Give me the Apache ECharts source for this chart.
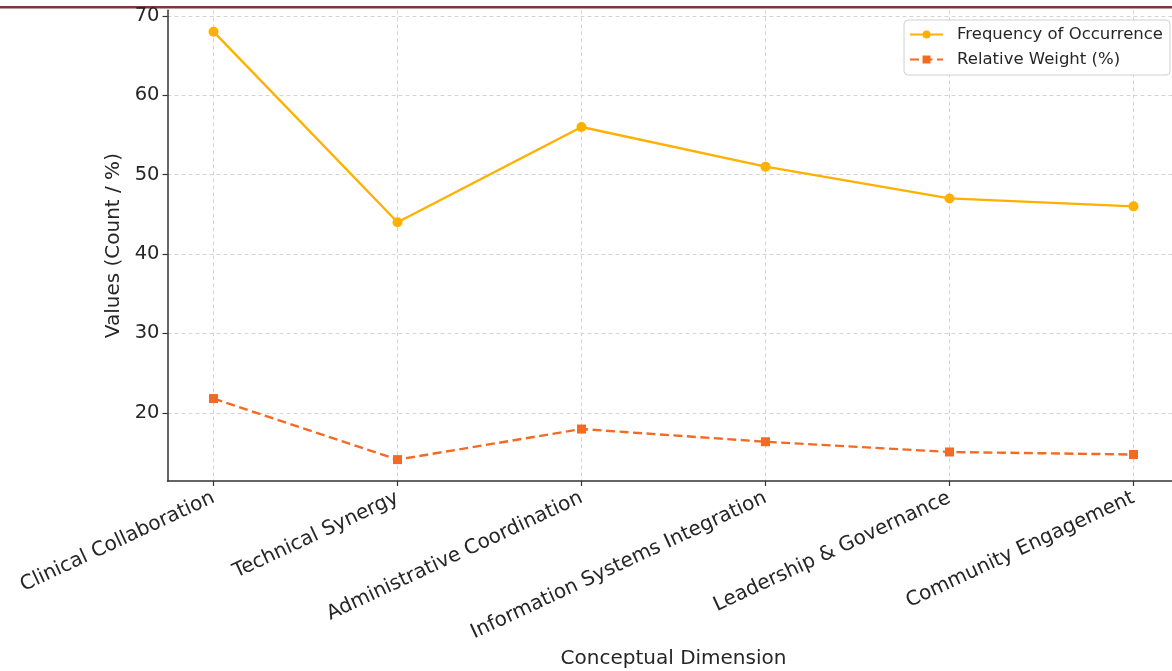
<!DOCTYPE html>
<html>
<head>
<meta charset="utf-8">
<script src="https://cdn.jsdelivr.net/npm/echarts@6/dist/echarts.min.js"></script>
<style>
  html, body { margin: 0; padding: 0; background: #ffffff; }
  #chart { width: 1172px; height: 671px; }
</style>
</head>
<body>
<div id="chart"></div>
<script>
// Conceptual dimensions on the x axis
const categories = [
  'Clinical Collaboration',
  'Technical Synergy',
  'Administrative Coordination',
  'Information Systems Integration',
  'Leadership & Governance',
  'Community Engagement'
];
// Number of coded occurrences per dimension
const frequency = [68, 44, 56, 51, 47, 46];
// Share of all occurrences, in percent
const relativeWeight = [21.79, 14.10, 17.95, 16.35, 15.06, 14.74];
// Tick values on the y axis
const yTicks = [20, 30, 40, 50, 60, 70];
const xTicks = categories.map((_, i) => i);

const FONT = "'DejaVu Sans'";
const TEXT = '#262626';

// axis range with a 5% margin on each side of the data
const allVals = frequency.concat(relativeWeight);
const lo = Math.min(...allVals), hi = Math.max(...allVals);
const pad = (hi - lo) * 0.05;
const n = categories.length;

const chart = echarts.init(document.getElementById('chart'), null, { renderer: 'canvas' });

chart.setOption({
  animation: false,
  backgroundColor: '#ffffff',
  textStyle: { fontFamily: FONT },
  graphic: [
    {
      type: 'text',
      left: 150, top: -20.5,
      style: {
        text: 'Strategy, Integrating Technology, Synergy, and Shared Learning in Interdisciplinary Teams: Coding, Frequency, and Community Survey',
        font: '20px "Liberation Sans"',
        fill: '#7b3a3a'
      }
    },
    {
      type: 'rect',
      shape: { x: 0, y: 6, width: 1172, height: 2.5 },
      style: { fill: '#7b3a3a' }
    }
  ],
  grid: {
    left: 167.5, right: -7.5, top: 10.3, bottom: 190,
    containLabel: false,
    outerBoundsMode: 'none'
  },
  legend: {
    orient: 'vertical',
    right: 2, top: 20,
    backgroundColor: '#ffffff',
    borderColor: '#d0d0d0',
    borderWidth: 1,
    borderRadius: 4,
    padding: [6, 7, 7, 5],
    itemWidth: 33,
    itemHeight: 10,
    itemGap: 8,
    textStyle: { fontFamily: FONT, fontSize: 16.5, color: TEXT, padding: [0, 0, 0, 9] },
    data: ['Frequency of Occurrence', 'Relative Weight (%)']
  },
  xAxis: {
    type: 'value',
    min: -0.25,
    max: n - 0.75,
    name: 'Conceptual Dimension',
    nameLocation: 'middle',
    nameGap: 167,
    nameTextStyle: { fontFamily: FONT, fontSize: 20, color: TEXT },
    axisLine: { show: true, onZero: false, lineStyle: { color: '#333333', width: 1.5 } },
    axisTick: { show: true, customValues: xTicks, length: 5, lineStyle: { color: '#333333', width: 1.2 } },
    axisLabel: {
      customValues: xTicks,
      rotate: 25,
      margin: 16,
      fontFamily: FONT, fontSize: 20, color: TEXT,
      formatter: v => categories[Math.round(v)] || ''
    },
    splitLine: { show: true, lineStyle: { color: '#d4d4d4', type: [4, 3], width: 1 } }
  },
  yAxis: {
    type: 'value',
    min: lo - pad,
    max: hi + pad,
    name: 'Values (Count / %)',
    nameLocation: 'middle',
    nameGap: 34,
    nameTextStyle: { fontFamily: FONT, fontSize: 20, color: TEXT },
    axisLine: { show: true, onZero: false, lineStyle: { color: '#333333', width: 1.5 } },
    axisTick: { show: true, customValues: yTicks, length: 5, lineStyle: { color: '#333333', width: 1.2 } },
    axisLabel: { customValues: yTicks, margin: 8, fontFamily: FONT, fontSize: 19.5, color: TEXT },
    splitLine: { show: true, lineStyle: { color: '#d4d4d4', type: [4, 3], width: 1 } }
  },
  series: [
    {
      name: 'Frequency of Occurrence',
      type: 'line',
      data: frequency.map((v, i) => [i, v]),
      symbol: 'circle',
      symbolSize: 10,
      lineStyle: { color: '#ffb000', width: 2.4 },
      itemStyle: { color: '#ffb000' }
    },
    {
      name: 'Relative Weight (%)',
      type: 'line',
      data: relativeWeight.map((v, i) => [i, v]),
      symbol: 'rect',
      symbolSize: 9,
      lineStyle: { color: '#f46a22', width: 2.4, type: [9, 4.5] },
      itemStyle: { color: '#f46a22' }
    }
  ]
});
</script>
</body>
</html>
